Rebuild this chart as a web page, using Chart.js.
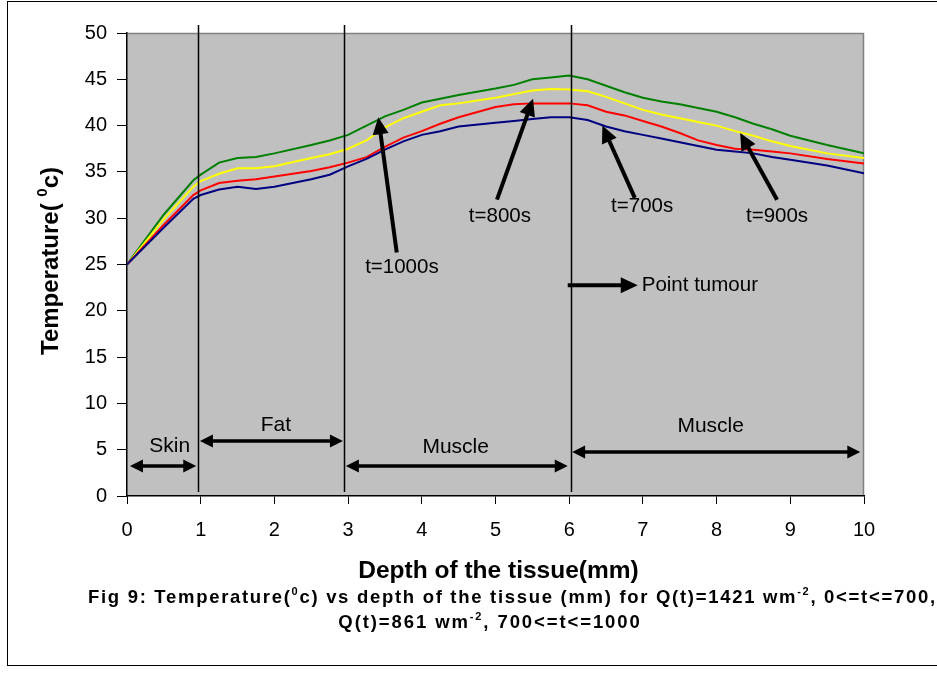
<!DOCTYPE html>
<html>
<head>
<meta charset="utf-8">
<script src="https://cdn.jsdelivr.net/npm/chart.js@4.4.1/dist/chart.umd.min.js"></script>
<style>
  html, body { margin: 0; padding: 0; background: #fff; }
</style>
</head>
<body>
<canvas id="chart" width="937" height="674"></canvas>
<script>
// depth in mm
const depth = [0, 0.5, 0.9, 1, 1.25, 1.5, 1.75, 2, 2.5, 2.75, 3, 3.25, 3.5, 3.75, 4, 4.25, 4.5, 5, 5.25, 5.5, 5.75, 6,
  6.25, 6.5, 6.75, 7, 7.25, 7.5, 7.75, 8, 8.25, 8.5, 8.75, 9, 9.5, 10];

// temperature (deg c) per time step
const temp700 = [25, 29.0, 32.1, 32.5, 33.1, 33.4, 33.15, 33.4, 34.2, 34.7, 35.6, 36.4, 37.4, 38.3, 39.0, 39.4, 39.9, 40.3, 40.5, 40.7, 40.9, 40.9,
  40.6, 39.9, 39.4, 39.0, 38.6, 38.2, 37.8, 37.4, 37.2, 37.0, 36.6, 36.3, 35.7, 34.85];
const temp800 = [25, 29.3, 32.5, 33.0, 33.8, 34.05, 34.2, 34.5, 35.1, 35.5, 36.0, 36.6, 37.7, 38.7, 39.4, 40.2, 40.9, 42.0, 42.3, 42.4, 42.4, 42.4,
  42.2, 41.5, 41.1, 40.5, 39.9, 39.2, 38.4, 37.9, 37.5, 37.4, 37.2, 37.0, 36.4, 35.9];
const temp900 = [25, 29.9, 33.4, 34.0, 34.8, 35.4, 35.4, 35.6, 36.5, 36.9, 37.5, 38.4, 39.8, 40.8, 41.5, 42.2, 42.4, 43.0, 43.4, 43.8, 43.95, 43.9,
  43.7, 43.1, 42.4, 41.7, 41.2, 40.8, 40.4, 40.0, 39.4, 38.9, 38.3, 37.8, 37.0, 36.5];
const temp1000 = [25, 30.4, 34.1, 34.7, 36.0, 36.5, 36.6, 37.0, 37.9, 38.4, 39.0, 40.0, 41.0, 41.7, 42.5, 42.9, 43.3, 44.0, 44.4, 45.0, 45.2, 45.4,
  45.0, 44.3, 43.6, 43.0, 42.6, 42.3, 41.9, 41.5, 40.9, 40.2, 39.6, 38.9, 37.9, 37.0];

// tissue layers
const boundaries = [0.97, 2.94, 6.02];
const layerNames = ["Skin", "Fat", "Muscle", "Muscle"];
const layerFrom = [0.04, 0.99, 2.97, 6.04];
const layerTo = [0.94, 2.93, 5.98, 9.95];

// callouts
const timeLabels = ["t=1000s", "t=800s", "t=700s", "t=900s"];

const FONT = "'Liberation Sans', Arial, Helvetica, sans-serif";
Chart.defaults.font.family = FONT;
Chart.defaults.color = "#000";

function toXY(chart, x, y) {
  return [chart.scales.x.getPixelForValue(x), chart.scales.y.getPixelForValue(y)];
}

function head(ctx, x, y, ang, len, half) {
  const c = Math.cos(ang), s = Math.sin(ang);
  ctx.beginPath();
  ctx.moveTo(x, y);
  ctx.lineTo(x - len * c + half * s, y - len * s - half * c);
  ctx.lineTo(x - len * c - half * s, y - len * s + half * c);
  ctx.closePath();
  ctx.fill();
}

function arrow(ctx, x1, y1, x2, y2, w, len, half, both) {
  const ang = Math.atan2(y2 - y1, x2 - x1);
  const c = Math.cos(ang), s = Math.sin(ang);
  ctx.lineWidth = w;
  ctx.beginPath();
  ctx.moveTo(both ? x1 + c * len * 0.8 : x1, both ? y1 + s * len * 0.8 : y1);
  ctx.lineTo(x2 - c * len * 0.8, y2 - s * len * 0.8);
  ctx.stroke();
  head(ctx, x2, y2, ang, len, half);
  if (both) head(ctx, x1, y1, ang + Math.PI, len, half);
}

// text with superscript parts, centred or left aligned on x, middle baseline
function richText(ctx, parts, x, y, size, weight, align, spacing) {
  const big = weight + " " + size + "px " + FONT;
  const small = weight + " " + Math.round(size * 0.62) + "px " + FONT;
  if ("letterSpacing" in ctx) ctx.letterSpacing = spacing + "px";
  let total = 0;
  parts.forEach((p) => {
    ctx.font = p[1] ? small : big;
    total += ctx.measureText(p[0]).width;
  });
  let cx = align === "center" ? x - total / 2 : x;
  ctx.textAlign = "left";
  ctx.textBaseline = "middle";
  parts.forEach((p) => {
    ctx.font = p[1] ? small : big;
    ctx.fillText(p[0], cx, p[1] ? y - size * 0.35 : y);
    cx += ctx.measureText(p[0]).width;
  });
  if ("letterSpacing" in ctx) ctx.letterSpacing = "0px";
}

const decor = {
  id: "decor",
  beforeDraw(chart) {
    const { ctx, chartArea: a } = chart;
    ctx.save();
    ctx.fillStyle = "#fff";
    ctx.fillRect(0, 0, chart.width, chart.height);
    ctx.fillStyle = "#c0c0c0";
    ctx.fillRect(a.left, a.top, a.right - a.left, a.bottom - a.top);
    ctx.strokeStyle = "#808080";
    ctx.lineWidth = 1.5;
    ctx.beginPath();
    ctx.moveTo(a.left, a.top + 0.5);
    ctx.lineTo(a.right - 0.5, a.top + 0.5);
    ctx.lineTo(a.right - 0.5, a.bottom);
    ctx.stroke();
    ctx.restore();
  },
  afterDatasetsDraw(chart) {
    const { ctx, chartArea: a } = chart;
    ctx.save();
    ctx.strokeStyle = "#000";
    ctx.fillStyle = "#000";

    // layer boundaries
    ctx.lineWidth = 1.5;
    boundaries.forEach((b) => {
      const px = Math.round(chart.scales.x.getPixelForValue(b)) + 0.5;
      ctx.beginPath();
      ctx.moveTo(px, a.top - 8);
      ctx.lineTo(px, a.bottom - 4);
      ctx.stroke();
    });

    // layer arrows and names
    const arrowY = [3.24, 5.94, 3.24, 4.75];
    const nameAt = [[0.58, 5.4], [2.02, 7.67], [4.46, 5.3], [7.92, 7.56]];
    ctx.font = "21px " + FONT;
    ctx.textAlign = "center";
    ctx.textBaseline = "middle";
    layerNames.forEach((n, i) => {
      const [x1, y1] = toXY(chart, layerFrom[i], arrowY[i]);
      const [x2] = toXY(chart, layerTo[i], arrowY[i]);
      arrow(ctx, x1, y1, x2, y1, 3.5, 13, 6.5, true);
      const [lx, ly] = toXY(chart, nameAt[i][0], nameAt[i][1]);
      ctx.fillText(n, lx, ly);
    });

    // time callouts
    const tips = [[3.41, 40.9], [5.51, 42.9], [6.45, 40.0], [8.32, 39.2]];
    const tails = [[3.66, 26.3], [5.02, 32.0], [6.89, 32.2], [8.82, 32.0]];
    const textAt = [[3.73, 24.7], [5.06, 30.2], [6.99, 31.3], [8.82, 30.2]];
    ctx.font = "20.5px " + FONT;
    timeLabels.forEach((t, i) => {
      const [x1, y1] = toXY(chart, tails[i][0], tails[i][1]);
      const [x2, y2] = toXY(chart, tips[i][0], tips[i][1]);
      arrow(ctx, x1, y1, x2, y2, 4, 17, 8, false);
      const [lx, ly] = toXY(chart, textAt[i][0], textAt[i][1]);
      ctx.fillText(t, lx, ly);
    });

    // point tumour
    const [p1x, p1y] = toXY(chart, 5.98, 22.75);
    const [p2x] = toXY(chart, 6.93, 22.75);
    arrow(ctx, p1x, p1y, p2x, p1y, 4, 17, 8, false);
    ctx.textAlign = "left";
    ctx.fillText("Point tumour", p2x + 4, p1y);

    // axis titles
    richText(ctx, [["Depth of the tissue(mm)", 0]], (a.left + a.right) / 2 + 3, 571, 24.5, "bold", "center", 0);
    ctx.save();
    ctx.translate(51, 261);
    ctx.rotate(-Math.PI / 2);
    richText(ctx, [["Temperature( ", 0], ["0", 1], ["c)", 0]], 0, 0, 24, "bold", "center", 0);
    ctx.restore();

    // caption
    richText(ctx, [["Fig 9: Temperature(", 0], ["0", 1], ["c) vs depth of the tissue (mm) for Q(t)=1421 wm", 0], ["-2", 1], [", 0<=t<=700,", 0]],
      88, 598, 18.5, "bold", "left", 1.7);
    richText(ctx, [["Q(t)=861 wm", 0], ["-2", 1], [", 700<=t<=1000", 0]], 490, 623, 18.5, "bold", "center", 1.9);

    // outer frame
    ctx.lineWidth = 1;
    ctx.strokeStyle = "#000";
    ctx.strokeRect(7.5, 1.5, 960, 664);
    ctx.restore();
  },
};

const series = [
  { label: "t=700s", data: temp700, color: "#000080" },
  { label: "t=800s", data: temp800, color: "#ff0000" },
  { label: "t=900s", data: temp900, color: "#ffff00" },
  { label: "t=1000s", data: temp1000, color: "#008000" },
];

new Chart(document.getElementById("chart"), {
  type: "line",
  data: {
    datasets: series.map((s) => ({
      label: s.label,
      data: depth.map((d, i) => ({ x: d, y: s.data[i] })),
      borderColor: s.color,
      borderWidth: 2,
      pointRadius: 0,
      tension: 0,
    })),
  },
  options: {
    responsive: false,
    animation: false,
    layout: { padding: { left: 7, top: 33, right: 73, bottom: 0 } },
    plugins: { legend: { display: false }, tooltip: { enabled: false } },
    scales: {
      x: {
        type: "linear",
        min: 0,
        max: 10,
        ticks: { stepSize: 1, font: { size: 20 }, padding: 14, color: "#000" },
        grid: { drawOnChartArea: false, tickLength: 8, color: "#000" },
        border: { color: "#000", width: 1.5 },
        afterFit: (s) => { s.height = 178; },
      },
      y: {
        min: 0,
        max: 50,
        ticks: { stepSize: 5, font: { size: 20 }, padding: 10, color: "#000" },
        grid: { drawOnChartArea: false, tickLength: 10, color: "#000" },
        border: { color: "#000", width: 1.5 },
        afterFit: (s) => { s.width = 120; },
      },
    },
  },
  plugins: [decor],
});
</script>
</body>
</html>
